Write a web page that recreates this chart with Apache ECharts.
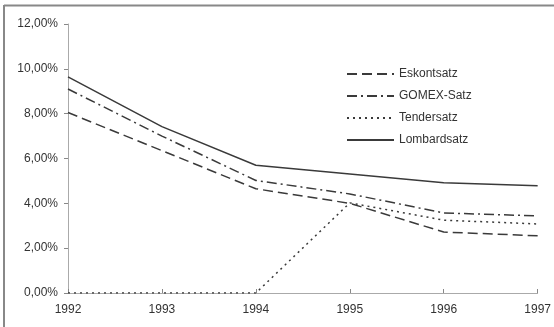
<!DOCTYPE html>
<html>
<head>
<meta charset="utf-8">
<script src="https://cdn.jsdelivr.net/npm/echarts@6/dist/echarts.min.js"></script>
<style>
html,body{margin:0;padding:0;background:#fff;}
#chart{width:554px;height:327px;}
</style>
</head>
<body>
<div id="chart"></div>
<script>
const years = ['1992','1993','1994','1995','1996','1997'];
const eskontsatz = [8.05, 6.35, 4.65, 4.0, 2.72, 2.55];
const gomexSatz = [9.1, 7.0, 5.02, 4.42, 3.57, 3.44];
const tendersatz = [0, 0, 0, 4.02, 3.25, 3.08];
const lombardsatz = [9.64, 7.42, 5.7, 5.31, 4.92, 4.78];
const yTicks = {min: 0, max: 12, interval: 2};

const chart = echarts.init(document.getElementById('chart'));
const ink = '#3a3a3a';
function mk(name, data, type, width) {
  return {
    name: name, type: 'line', data: data, symbol: 'none', showSymbol: false,
    lineStyle: {color: ink, width: width, type: type},
    itemStyle: {color: ink}
  };
}
chart.setOption({
  animation: false,
  textStyle: {fontFamily: 'Liberation Sans, Arial, sans-serif'},
  graphic: [
    {type: 'line', shape: {x1: 4, y1: 5.5, x2: 554, y2: 5.5}, style: {stroke: '#888', lineWidth: 2}},
    {type: 'line', shape: {x1: 4, y1: 5, x2: 4, y2: 327}, style: {stroke: '#888', lineWidth: 2}}
  ],
  grid: {left: 68, right: 12, top: 24, bottom: 34},
  legend: {
    orient: 'vertical', left: 341, top: 63, itemWidth: 47, itemHeight: 14, itemGap: 10,
    itemStyle: {opacity: 0, borderWidth: 0},
    textStyle: {color: '#333', fontSize: 12},
    data: ['Eskontsatz','GOMEX-Satz','Tendersatz','Lombardsatz']
  },
  xAxis: {
    type: 'category', data: years, boundaryGap: false,
    axisLine: {lineStyle: {color: '#aaa', width: 1}},
    axisTick: {inside: true, length: 4, lineStyle: {color: '#888'}},
    axisLabel: {color: '#333', fontSize: 12, margin: 11, showMaxLabel: true}
  },
  yAxis: {
    type: 'value', min: yTicks.min, max: yTicks.max, interval: yTicks.interval,
    axisLine: {show: true, lineStyle: {color: '#aaa', width: 1}},
    axisTick: {show: true, length: 4, lineStyle: {color: '#888'}},
    splitLine: {show: false},
    axisLabel: {color: '#333', fontSize: 12, margin: 10,
      formatter: v => v.toFixed(2).replace('.', ',') + '%'}
  },
  series: [
    mk('Eskontsatz', eskontsatz, [10, 5], 1.5),
    mk('GOMEX-Satz', gomexSatz, [10, 4, 2, 4], 1.5),
    mk('Tendersatz', tendersatz, [2, 4], 1.5),
    mk('Lombardsatz', lombardsatz, 'solid', 1.5)
  ]
});
</script>
</body>
</html>
